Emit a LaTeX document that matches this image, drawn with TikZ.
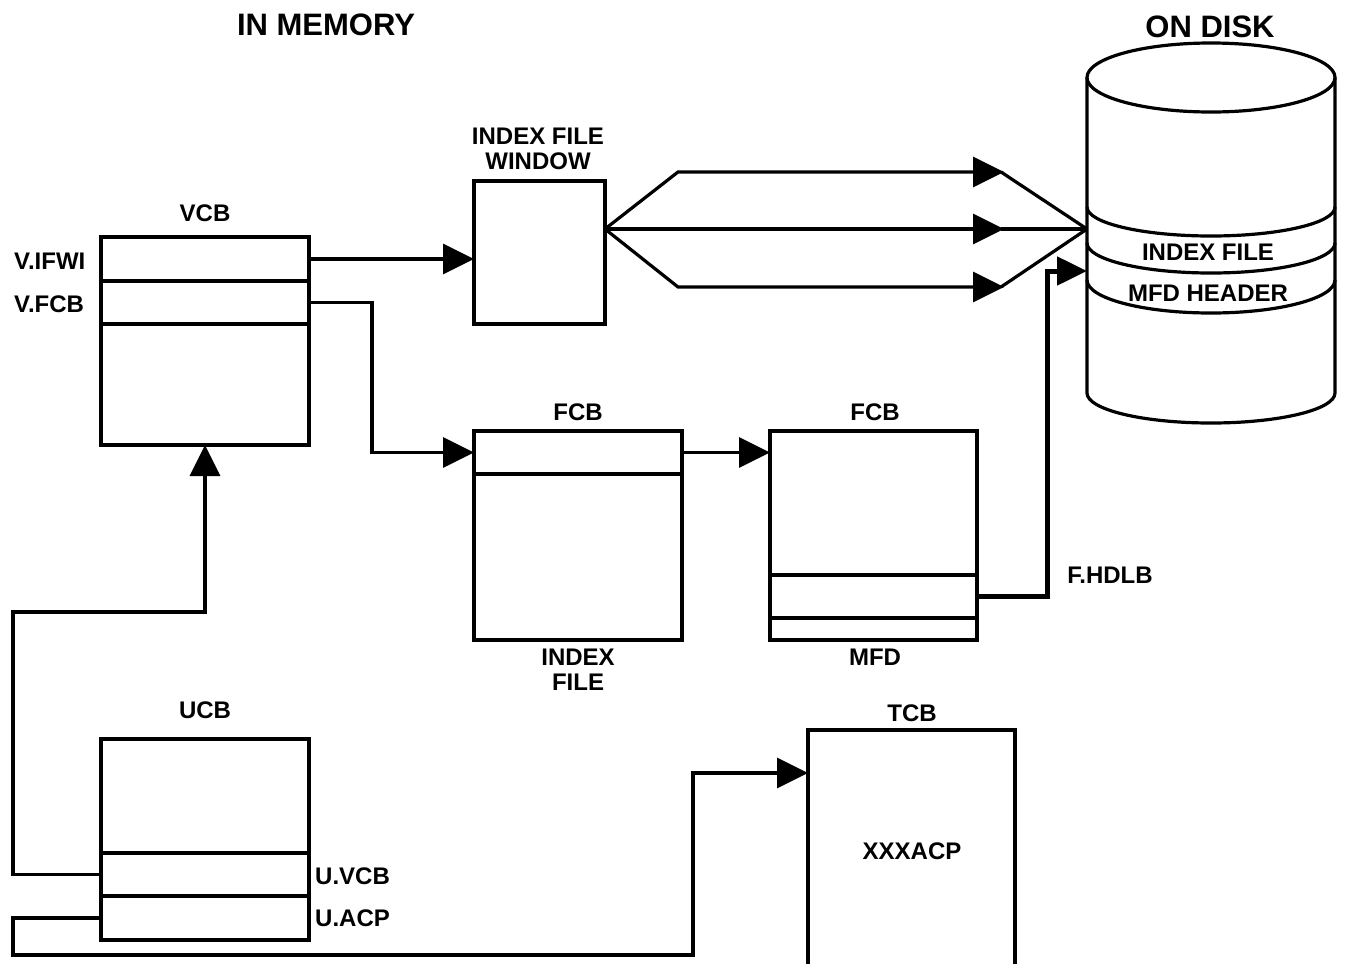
\documentclass[tikz,border=0pt]{standalone}
\usepackage{fontspec}
\setmainfont{Liberation Sans}
\usetikzlibrary{arrows.meta}
\begin{document}
\begin{tikzpicture}[x=1pt,y=-1pt,
  wire/.style={line width=3.2pt, line join=miter},
  heavy/.style={line width=5pt, line join=miter},
  tip/.style={-{Triangle[length=31pt,width=30pt]}},
  smalltip/.style={-{Triangle[length=30pt,width=28pt]}},
  cell/.style={draw, line width=3.2pt, inner sep=0pt, outer sep=0pt, anchor=north west},
  lbl/.style={font=\bfseries\fontsize{24}{25}\selectfont, inner sep=0pt},
  ttl/.style={font=\bfseries\fontsize{31}{33}\selectfont, inner sep=0pt},
]
\useasboundingbox (0,0) rectangle (1347,964);

% titles
\node[ttl] (tmem) at (326,25) {IN MEMORY};
\node[ttl] (tdisk) at (1210,27) {ON DISK};

% VCB
\node[lbl] (vcbt) at (205,213) {VCB};
\node[cell, minimum width=208pt, minimum height=44pt] (vifwi) at (101,237) {};
\node[cell, minimum width=208pt, minimum height=43pt] (vfcb) at (101,281) {};
\node[cell, minimum width=208pt, minimum height=121pt] (vrest) at (101,324) {};
\node[lbl, anchor=west] (vifwit) at (14,261) {V.IFWI};
\node[lbl, anchor=west] (vfcbt) at (14,304) {V.FCB};

% index file window
\node[lbl, align=center] (ifwt) at (538,149) {INDEX FILE\\WINDOW};
\node[cell, minimum width=131pt, minimum height=143pt] (ifw) at (474,181) {};
\coordinate (fan) at (605,229);

% FCB of the index file
\node[lbl] (fcbat) at (578,412) {FCB};
\node[cell, minimum width=208pt, minimum height=43pt] (fcbahead) at (474,431) {};
\node[cell, minimum width=208pt, minimum height=166pt] (fcbabody) at (474,474) {};
\node[lbl, align=center] (ixft) at (578,670) {INDEX\\FILE};

% FCB of the MFD
\node[lbl] (fcbbt) at (875,412) {FCB};
\node[cell, minimum width=207pt, minimum height=144pt] (fcbbtop) at (770,431) {};
\node[cell, minimum width=207pt, minimum height=43pt] (hdlb) at (770,575) {};
\node[cell, minimum width=207pt, minimum height=22pt] (fcbbbot) at (770,618) {};
\node[lbl] (mfdt) at (875,657) {MFD};
\node[lbl] (hdlbt) at (1110,575) {F.HDLB};

% UCB
\node[lbl] (ucbt) at (205,710) {UCB};
\node[cell, minimum width=208pt, minimum height=114pt] (ucbtop) at (101,739) {};
\node[cell, minimum width=208pt, minimum height=43pt] (uvcb) at (101,853) {};
\node[cell, minimum width=208pt, minimum height=44pt] (uacp) at (101,896) {};
\node[lbl, anchor=west] (uvcbt) at (315,876) {U.VCB};
\node[lbl, anchor=west] (uacpt) at (315,918) {U.ACP};

% TCB (runs off the bottom edge)
\node[lbl] (tcbt) at (912,713) {TCB};
\node[anchor=north west, minimum width=207pt, minimum height=234pt, inner sep=0pt, outer sep=0pt] (tcb) at (808,730) {};
\draw[wire] (tcb.south west) -- (tcb.north west) -- (tcb.north east) -- (tcb.south east);
\node[lbl] (acpt) at (912,851) {XXXACP};

% disk cylinder
\draw[wire] (1211,77.5) ellipse [x radius=124, y radius=34.5];
\draw[wire] (1087,77.5) -- (1087,393) arc[start angle=180, end angle=0, x radius=124, y radius=30] -- (1335,77.5);
\draw[wire] (1087,207) arc[start angle=180, end angle=0, x radius=124, y radius=29];
\draw[wire] (1087,243) arc[start angle=180, end angle=0, x radius=124, y radius=30];
\draw[wire] (1087,280) arc[start angle=180, end angle=0, x radius=124, y radius=33];
\node[lbl] (dixt) at (1208,252) {INDEX FILE};
\node[lbl] (dmfdt) at (1208,293) {MFD HEADER};
\coordinate (dsk) at (1087,229);
\coordinate (dskhdr) at (1087,271);

% connectors
\draw[wire, tip] (vifwi.east) -- (vifwi.east -| ifw.west);
\draw[wire, tip] (vfcb.east) -- ++(63,0) |- (fcbahead.west);
\draw[wire, tip] (fcbahead.east) -- (fcbahead.east -| fcbbtop.west);

\draw[wire, tip] (fan) -- (678,172) -- (1004,172);
\draw[wire] (1001,172) -- (dsk);
\draw[wire, tip] (fan) -- (1004,229);
\draw[wire] (1001,229) -- (dsk);
\draw[wire, tip] (fan) -- (678,287) -- (1004,287);
\draw[wire] (1001,287) -- (dsk);

\draw[heavy, smalltip] (hdlb.east) -- (1047,596.5) |- (dskhdr);

\draw[wire, tip] (uvcb.west) -| (13,612) -| (vrest.south);
\draw[wire, tip] (uacp.west) -| (13,955) -| (693,773) -- (tcb.west |- 0,773);
\end{tikzpicture}
\end{document}
